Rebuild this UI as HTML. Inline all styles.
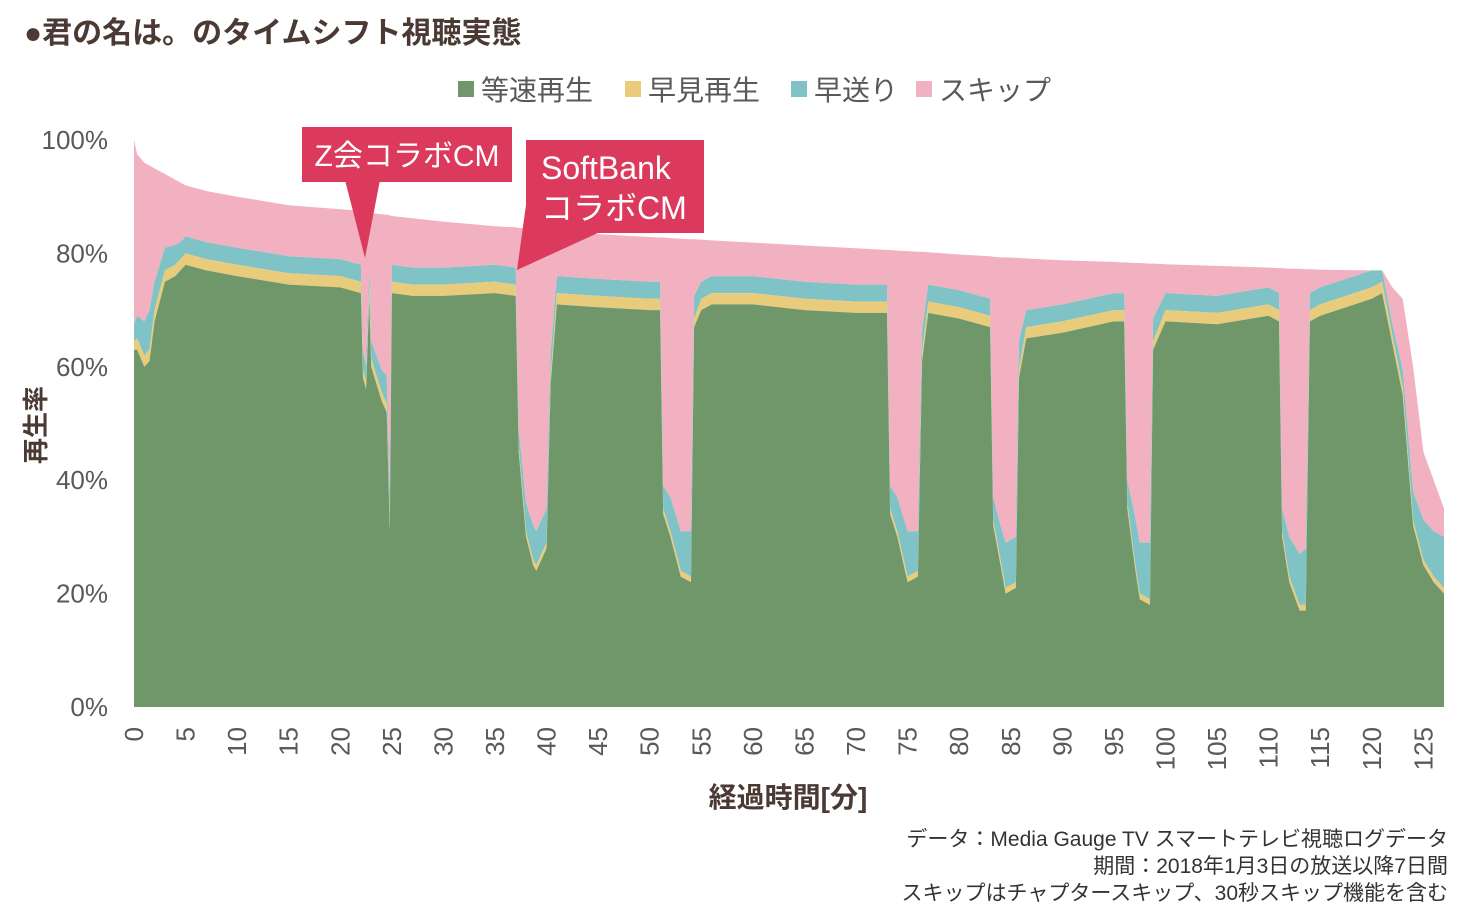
<!DOCTYPE html>
<html><head><meta charset="utf-8">
<style>
body{margin:0;background:#fff;width:1464px;height:921px;overflow:hidden;font-family:"Liberation Sans","Noto Sans CJK JP",sans-serif;}
svg{display:block}
</style></head>
<body>
<svg width="1464" height="921" xmlns="http://www.w3.org/2000/svg" font-family="Liberation Sans, Noto Sans CJK JP, sans-serif">
<text x="24" y="43" font-size="30" font-weight="bold" fill="#4a3a33">●君の名は。のタイムシフト視聴実態</text>
<g id="legend">
 <g><rect x="458" y="81" width="16" height="16" fill="#6f976a"/><text x="481" y="100" font-size="28" fill="#595959">等速再生</text></g>
 <g><rect x="625" y="81" width="16" height="16" fill="#e8cc7c"/><text x="648" y="100" font-size="28" fill="#595959">早見再生</text></g>
 <g><rect x="791" y="81" width="16" height="16" fill="#80c3c6"/><text x="814" y="100" font-size="28" fill="#595959">早送り</text></g>
 <g><rect x="916" y="81" width="16" height="16" fill="#f2b1c0"/><text x="939" y="100" font-size="28" fill="#595959">スキップ</text></g>
</g>
<g id="yaxis"></g>
<g id="plot"></g>
<g id="xaxis"></g>
<text transform="translate(45,425) rotate(-90)" text-anchor="middle" font-size="26" font-weight="bold" fill="#4a3a33">再生率</text>
<text x="788" y="807" text-anchor="middle" font-size="28" font-weight="bold" fill="#4a3a33">経過時間[分]</text>
<g>
 <polygon points="345,180 380,180 365,258" fill="#dc3a5c"/>
 <rect x="302" y="127" width="210" height="55" fill="#dc3a5c"/>
 <text x="407" y="166" text-anchor="middle" font-size="30" fill="#fff">Z会コラボCM</text>
</g>
<g>
 <polygon points="526,205 600,232 517,270" fill="#dc3a5c"/>
 <rect x="526" y="140" width="178" height="93" fill="#dc3a5c"/>
 <text x="541" y="179" font-size="32" fill="#fff">SoftBank</text>
 <text x="541" y="219" font-size="32" fill="#fff">コラボCM</text>
</g>
<g font-size="21" fill="#333" text-anchor="end">
 <text x="1448" y="846">データ：Media Gauge TV  スマートテレビ視聴ログデータ</text>
 <text x="1448" y="873">期間：2018年1月3日の放送以降7日間</text>
 <text x="1448" y="900">スキップはチャプタースキップ、30秒スキップ機能を含む</text>
</g>
</svg>
<script>
const minutes=[0,0.3,1,1.5,2,3,4,4.5,5,7,10,15,20,22,22.2,22.5,22.8,23,24,24.5,24.8,25,27,30,35,37,37.3,38,38.7,39,40,40.4,41,45,50,51,51.3,52,53,54,54.3,55,56,60,65,70,73,73.3,74,75,76,76.4,77,80,83,83.3,84,84.5,85.5,85.8,86.5,90,95,96,96.3,97,97.5,98.5,98.8,100,105,110,111,111.3,112,113,113.6,114,115,120,121,122,123,124,125,126,127];
const totalVals=[100,97.5,96,95.5,95,94,93,92.5,92,91,90,88.5,87.8,87.5,87.4,87.3,87.2,87.1,86.9,86.8,86.7,86.6,86.2,85.6,84.8,84.6,84.5,84.4,84.3,84.2,84,83.9,83.8,83.4,82.9,82.8,82.8,82.7,82.6,82.5,82.5,82.4,82.3,81.9,81.4,80.9,80.6,80.6,80.5,80.4,80.3,80.3,80.2,79.8,79.5,79.4,79.3,79.3,79.2,79.2,79.1,78.8,78.5,78.4,78.4,78.3,78.3,78.2,78.2,78.1,77.8,77.5,77.4,77.4,77.3,77.3,77.2,77.2,77.1,76.7,76.4,74,72,60,45,40,35];
const normalVals=[63,63,60,61,68,75,76,77,78,77,76,74.5,74,73,58,56,72,60,54,52,31,73,72.5,72.5,73,72.5,45,30,25,24,28,57,71,70.5,70,70,34,30,23,22,67,70,71,71,70,69.5,69.5,34,30,22,23,61,69.5,68.5,67,32,25,20,21,58,65,66,68,68,35,25,19,18,63,68,67.5,69,68,30,22,17,17,68,69,72,73,64,55,32,25,22,20];
const fastVals=[1.5,2,2,2,2,2,2,2,2,2,2,2,2,2,1.5,1.5,2,1.5,1.5,1.5,1,2,2,2,2,2,1,1,1,1,1,1.5,2,2,2,2,1,1,1,1,1.5,2,2,2,2,2,2,1,1,1,1,1.5,2,2,2,1,1,1,1,1.5,2,2,2,2,1,1,1,1,1.5,2,2,2,2,1,1,1,1,2,2,2,2,1.5,1.5,1,1,1,1];
const forwardVals=[3,4,6,7,5,4,3.5,3,3,3,3,3,3,3,3,3,3,3,4,5,5,3,3,3,3,3,3,5,6,6,6,4,3,3,3,3,4,6,7,8,4,3,3,3,3,3,3,4,6,8,7,4,3,3,3,4,6,8,8,5,3,3,3,3,4,8,9,10,4,3,3,3,3,4,7,9,10,3,3,3,2,2,3,5,7,8,9];
const yTicks=[0,20,40,60,80,100];
const xTicks=[0,5,10,15,20,25,30,35,40,45,50,55,60,65,70,75,80,85,90,95,100,105,110,115,120,125];

const NS="http://www.w3.org/2000/svg";
const X0=134,X1=1444,XMAX=127,Y0=707,Y100=140;
const xs=m=>X0+(X1-X0)*m/XMAX;
const ys=v=>Y0-(Y0-Y100)*v/100;
const plot=document.getElementById('plot');
function area(lo,hi,color,name){
  let d='M'+xs(minutes[0])+','+ys(hi[0]);
  for(let i=1;i<minutes.length;i++)d+='L'+xs(minutes[i]).toFixed(1)+','+ys(hi[i]).toFixed(1);
  for(let i=minutes.length-1;i>=0;i--)d+='L'+xs(minutes[i]).toFixed(1)+','+ys(lo[i]).toFixed(1);
  const p=document.createElementNS(NS,'path');
  p.setAttribute('d',d+'Z');p.setAttribute('fill',color);
  
  
  plot.appendChild(p);
}
const zero=minutes.map(()=>0);
const c1=normalVals.slice();
const c2=c1.map((v,i)=>v+fastVals[i]);
const c3=c2.map((v,i)=>v+forwardVals[i]);
const c4=c3.map((v,i)=>Math.max(v,totalVals[i]));
area(c3,c4,'#f2b1c0','skip-area');
area(c2,c3,'#80c3c6','forward-area');
area(c1,c2,'#e8cc7c','fast-area');
area(zero,c1,'#6f976a','normal-area');

const ya=document.getElementById('yaxis');
yTicks.forEach(v=>{
  const t=document.createElementNS(NS,'text');
  t.setAttribute('x',108);t.setAttribute('y',ys(v)+9);
  t.setAttribute('text-anchor','end');t.setAttribute('font-size','26');t.setAttribute('fill','#595959');
  t.textContent=v+'%';
  
  
  ya.appendChild(t);
});
const xa=document.getElementById('xaxis');
xTicks.forEach(v=>{
  const t=document.createElementNS(NS,'text');
  const x=xs(v)+9;
  t.setAttribute('transform','translate('+x+',727) rotate(-90)');
  t.setAttribute('text-anchor','end');t.setAttribute('font-size','26');t.setAttribute('fill','#595959');
  t.textContent=v;
  
  
  xa.appendChild(t);
});
</script>
</body></html>
